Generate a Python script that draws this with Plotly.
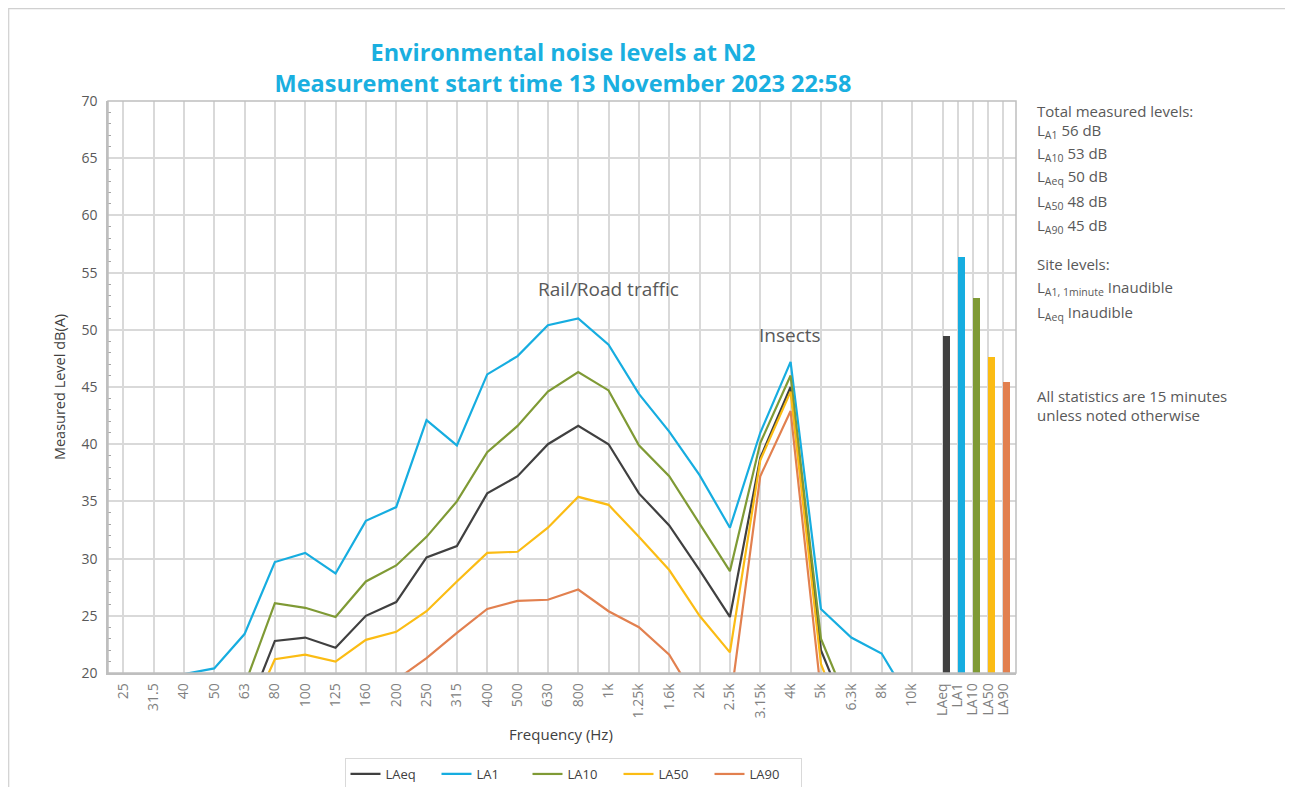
import plotly.graph_objects as go

# ---------------- data ----------------
freq_bands = ["25", "31.5", "40", "50", "63", "80", "100", "125", "160", "200", "250",
              "315", "400", "500", "630", "800", "1k", "1.25k", "1.6k", "2k", "2.5k",
              "3.15k", "4k", "5k", "6.3k", "8k", "10k"]

la_eq = [12.5, 13.5, 14.5, 15.2, 16.1, 22.8, 23.1, 22.2, 25.0, 26.2, 30.1, 31.1, 35.7, 37.2,
         40.0, 41.6, 40.0, 35.7, 32.9, 29.0, 24.9, 38.8, 45.0, 22.0, 15.5, 14.0, 12.5]
la_1 = [17.0, 18.5, 19.9, 20.4, 23.4, 29.7, 30.5, 28.7, 33.3, 34.5, 42.1, 39.9, 46.1, 47.7,
        50.4, 51.0, 48.7, 44.4, 41.1, 37.3, 32.7, 41.0, 47.2, 25.6, 23.1, 21.7, 17.3]
la_10 = [14.5, 15.5, 16.5, 17.5, 18.9, 26.1, 25.7, 24.9, 28.0, 29.4, 31.9, 35.0, 39.3, 41.6,
         44.6, 46.3, 44.7, 39.9, 37.2, 33.1, 28.9, 40.1, 46.0, 23.0, 16.6, 15.0, 13.5]
la_50 = [11.0, 12.0, 13.0, 14.0, 15.3, 21.2, 21.6, 21.0, 22.9, 23.6, 25.4, 28.0, 30.5, 30.6,
         32.7, 35.4, 34.7, 31.9, 29.0, 25.0, 21.8, 38.6, 44.6, 20.8, 14.0, 12.5, 11.0]
la_90 = [8.0, 9.0, 10.0, 11.0, 12.5, 14.5, 15.0, 15.5, 17.5, 19.4, 21.3, 23.5, 25.6, 26.3,
         26.4, 27.3, 25.4, 24.0, 21.6, 17.2, 17.2, 37.2, 42.9, 18.3, 12.0, 10.5, 9.0]

series_names = ["LAeq", "LA1", "LA10", "LA50", "LA90"]
series_values = [la_eq, la_1, la_10, la_50, la_90]
series_colors = ["#404040", "#16ADE0", "#7F9A35", "#FBBC14", "#E2804F"]

overall_names = ["LAeq", "LA1", "LA10", "LA50", "LA90"]
overall_levels = [49.5, 56.4, 52.8, 47.6, 45.4]

total_subs = ["A1", "A10", "Aeq", "A50", "A90"]
total_values = [56, 53, 50, 48, 45]
site_subs = ["A1, 1minute", "Aeq"]
site_values = ["Inaudible", "Inaudible"]

# ---------------- layout helpers (page pixel -> paper) ----------------
OFF = 8                      # page body margin
W, H = 1285, 779             # figure size
L, R, T, B = 108 - OFF, 1016 - OFF, 101 - OFF, 673 - OFF
PW, PH = R - L, B - T


def px_x(px):
    return (px - OFF - L) / PW


def px_y(py):
    return (B - (py - OFF)) / PH


def cont_y(py):
    return 1 - (py - OFF) / H


split = px_x(935)
GRID = "#D9D9D9"
AXIS = "#BFBFBF"
TXT = "#595959"
FONT = "Open Sans"

fig = go.Figure()

for name, vals, col in zip(series_names, series_values, series_colors):
    fig.add_trace(go.Scatter(x=freq_bands, y=vals, name=name, mode="lines",
                             line=dict(color=col, width=2.2), xaxis="x", yaxis="y"))

fig.add_trace(go.Bar(x=overall_names, y=overall_levels,
                     marker=dict(color=series_colors, line=dict(width=0)),
                     width=0.47, offset=0, xaxis="x2", yaxis="y", showlegend=False))

fig.update_layout(
    width=W, height=H,
    margin=dict(l=L, r=W - R, t=T, b=H - B, pad=0, autoexpand=False),
    paper_bgcolor="white", plot_bgcolor="white",
    font=dict(family=FONT, color=TXT, size=13),
    title=dict(text="Environmental noise levels at N2<br>Measurement start time 13 November 2023 22:58",
               x=px_x(563), xref="paper", xanchor="center",
               y=cont_y(61), yref="container", yanchor="middle",
               font=dict(family=FONT, size=23.5, color="#1AAFE0", weight="bold")),
    xaxis=dict(domain=[0, split], type="category", range=[-0.5, 26.76],
               tickmode="array", tickvals=freq_bands, ticktext=freq_bands,
               showgrid=True, gridcolor=GRID, gridwidth=1.5,
               showline=True, linecolor=AXIS, linewidth=1.5,
               tickangle=-90, tickfont=dict(size=14, color="#808080"),
               ticks="", anchor="y", automargin=False, ticklabelstandoff=3),
    xaxis2=dict(domain=[split, 1], type="category", range=[-0.5, 4.85],
                tickmode="array", tickvals=overall_names, ticktext=overall_names,
                showgrid=True, gridcolor=GRID, gridwidth=1.5,
                showline=True, linecolor=AXIS, linewidth=1.5,
                tickangle=-90, tickfont=dict(size=14, color="#808080"),
                ticks="", anchor="y", automargin=False, ticklabelstandoff=3),
    yaxis=dict(range=[20, 70], dtick=5, showgrid=True, gridcolor=GRID, gridwidth=1.5,
               showline=True, linecolor=AXIS, linewidth=1.5, zeroline=False,
               ticks="", tickfont=dict(size=14, color=TXT), automargin=False,
               ticklabelstandoff=6,
               minor=dict(ticks="inside", dtick=1, ticklen=3, tickcolor="#A6A6A6", showgrid=False),
               title=dict(text="Measured Level dB(A)", font=dict(size=14.5, color="#404040"), standoff=12)),
    showlegend=True,
    legend=dict(orientation="h", x=px_x(573), xanchor="center",
                yref="container", y=cont_y(758), yanchor="top",
                bordercolor=GRID, borderwidth=1, font=dict(size=13, color="#404040"),
                entrywidth=46, itemwidth=30),
    bargap=0,
)

shapes = [
    dict(type="rect", xref="paper", yref="paper", x0=0, x1=1, y0=0, y1=1,
         line=dict(color=AXIS, width=1.5), layer="above"),
    dict(type="rect", xref="paper", yref="paper", x0=px_x(8.7), x1=px_x(1287), y0=px_y(800), y1=px_y(8.7),
         line=dict(color="#D0D0D0", width=1.2)),
]
fig.update_layout(shapes=shapes)

ann = []
ann.append(dict(text="Frequency (Hz)", x=px_x(561), y=px_y(734), xref="paper", yref="paper",
                showarrow=False, font=dict(size=15, color="#404040"), xanchor="center", yanchor="middle"))
ann.append(dict(text="Rail/Road traffic", x=px_x(608), y=px_y(289), xref="paper", yref="paper",
                showarrow=False, font=dict(size=19, color=TXT), xanchor="center", yanchor="middle"))
ann.append(dict(text="Insects", x=px_x(790), y=px_y(335), xref="paper", yref="paper",
                showarrow=False, font=dict(size=19, color=TXT), xanchor="center", yanchor="middle"))

tx = px_x(1035)
lines = [("Total measured levels:", 111)]
ys_total = [131, 154, 177, 202, 226]
for s, v, yy in zip(total_subs, total_values, ys_total):
    lines.append((f"L<sub>{s}</sub> {v} dB", yy))
lines.append(("Site levels:", 264))
for s, v, yy in zip(site_subs, site_values, [288, 313]):
    lines.append((f"L<sub>{s}</sub> {v}", yy))
lines.append(("All statistics are 15 minutes", 396))
lines.append(("unless noted otherwise", 415))
for t, yy in lines:
    ann.append(dict(text=t, x=tx, y=px_y(yy), xref="paper", yref="paper", showarrow=False,
                    xanchor="left", yanchor="middle", font=dict(size=15, color=TXT)))
fig.update_layout(annotations=ann)

fig.write_html("out.html")
